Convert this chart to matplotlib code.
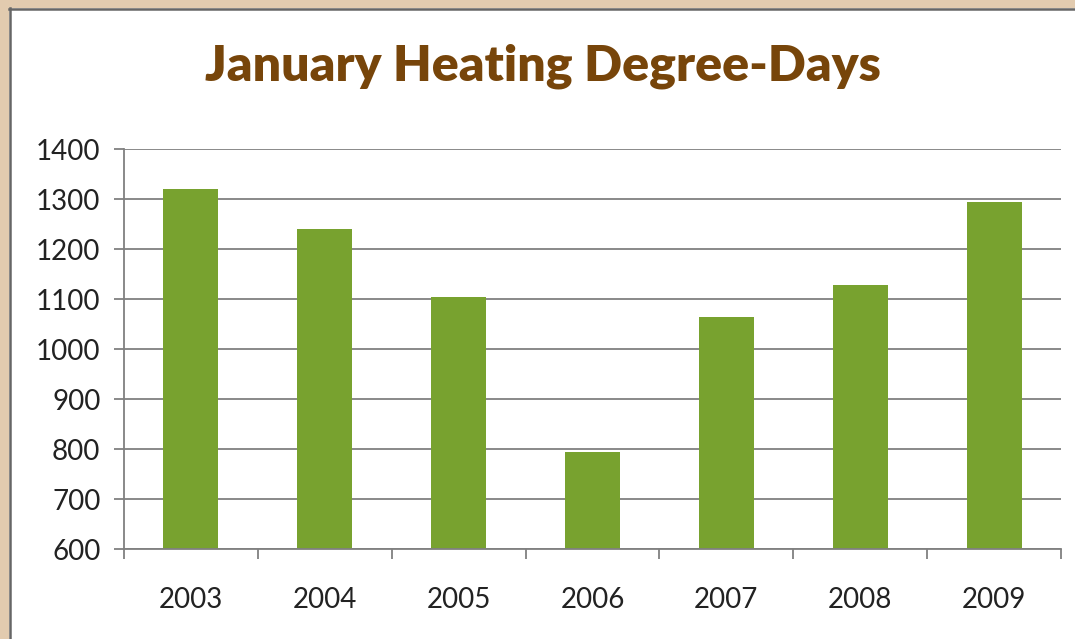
import matplotlib.pyplot as plt
from matplotlib.patches import Rectangle
from matplotlib.lines import Line2D
import numpy as np

# Data
years = ['2003', '2004', '2005', '2006', '2007', '2008', '2009']
degree_days = [1320, 1241, 1104, 795, 1065, 1128, 1295]
y_ticks = [600, 700, 800, 900, 1000, 1100, 1200, 1300, 1400]

fig = plt.figure(figsize=(10.75, 6.39), dpi=100)
fig.patch.set_facecolor('white')

# tan frame at top / left with a dark inner edge
tan = '#E2CBAF'
fig.patches.append(Rectangle((0, 1 - 7 / 639), 1, 7 / 639, transform=fig.transFigure,
                             color=tan, zorder=0))
fig.patches.append(Rectangle((0, 0), 8 / 1075, 1, transform=fig.transFigure,
                             color=tan, zorder=0))
fig.lines.append(Line2D([9 / 1075, 1], [1 - 8.5 / 639, 1 - 8.5 / 639], transform=fig.transFigure,
                        color='#666666', lw=1.8))
fig.lines.append(Line2D([9.5 / 1075, 9.5 / 1075], [0, 1 - 8 / 639], transform=fig.transFigure,
                        color='#666666', lw=1.8))

ax = fig.add_axes([124 / 1075, 1 - 549 / 639, (1061 - 124) / 1075, 400 / 639])
x = np.arange(len(years))
ax.bar(x, degree_days, width=0.41, color='#78A22F', zorder=3)

ax.set_ylim(600, 1400)
ax.set_xlim(-0.5, len(years) - 0.5)
ax.set_yticks(y_ticks)
ax.yaxis.grid(True, color='#808080', lw=1.3)
ax.set_axisbelow(True)

for side in ['top', 'right']:
    ax.spines[side].set_visible(False)
for side in ['left', 'bottom']:
    ax.spines[side].set_color('#808080')
    ax.spines[side].set_linewidth(1.3)
    ax.spines[side].set_zorder(4)

ax.set_xticks(x)
ax.set_xticklabels(years)
ax.set_xticks(np.arange(-0.5, len(years), 1), minor=True)
ax.tick_params(axis='x', which='major', length=0, pad=27, labelsize=20, labelcolor='#222222')
ax.tick_params(axis='x', which='minor', length=7, width=1.3, color='#808080')
ax.tick_params(axis='y', length=7, width=1.3, color='#808080', pad=10,
               labelsize=20, labelcolor='#222222')
for lab in ax.get_xticklabels() + ax.get_yticklabels():
    lab.set_family('Lato')

fig.text(543 / 1075, 1 - 66 / 639, 'January Heating Degree-Days', ha='center', va='center',
         fontsize=36, fontweight='heavy', color='#77450A', family='Lato')

fig.savefig('out.png', dpi=100)
